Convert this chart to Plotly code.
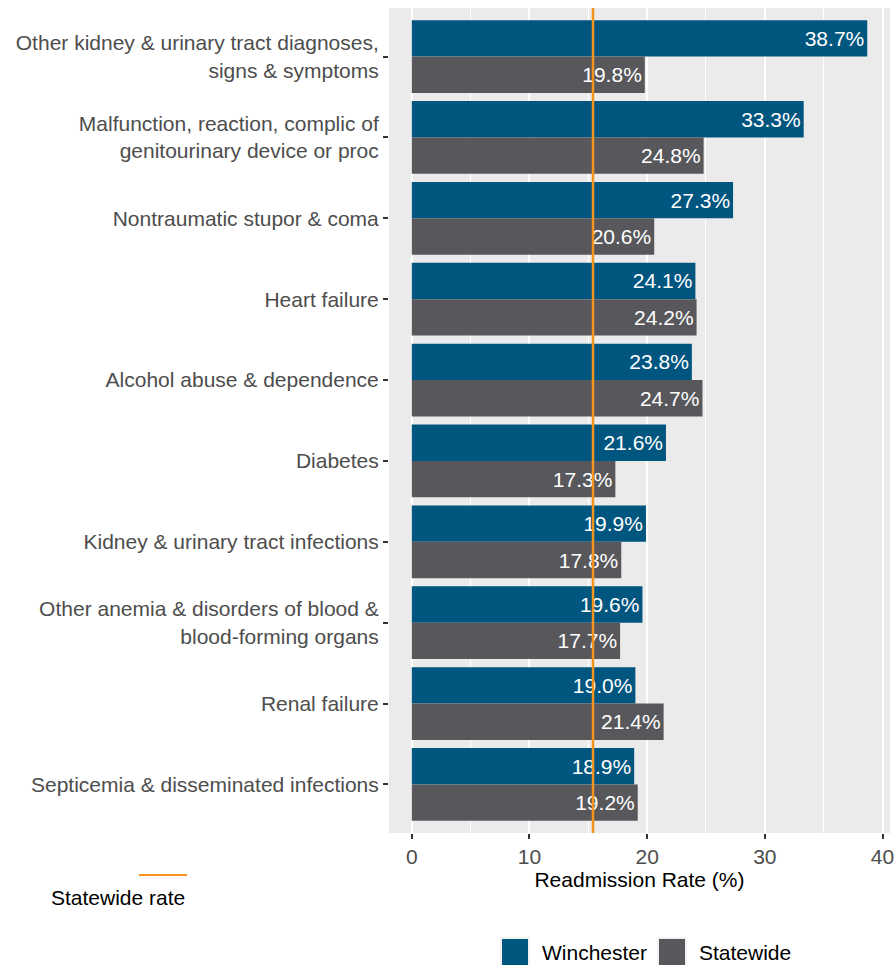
import plotly.graph_objects as go

# Readmission rates by diagnosis (top to bottom as shown)
diagnoses = [
    "Other kidney & urinary tract diagnoses,<br>signs & symptoms",
    "Malfunction, reaction, complic of<br>genitourinary device or proc",
    "Nontraumatic stupor & coma",
    "Heart failure",
    "Alcohol abuse & dependence",
    "Diabetes",
    "Kidney & urinary tract infections",
    "Other anemia & disorders of blood &<br>blood-forming organs",
    "Renal failure",
    "Septicemia & disseminated infections",
]
winchester = [38.7, 33.3, 27.3, 24.1, 23.8, 21.6, 19.9, 19.6, 19.0, 18.9]
statewide = [19.8, 24.8, 20.6, 24.2, 24.7, 17.3, 17.8, 17.7, 21.4, 19.2]
statewide_rate = 15.4

x_ticks = [0, 10, 20, 30, 40]

series = [("Winchester", winchester, "#00567F"), ("Statewide", statewide, "#58585C")]
orange = "#F7941D"
FONT = "Liberation Sans, Arial"

# plot area in pixels (figure is 896 x 965)
W, H = 896, 965
L, R, T, B = 389, 890, 8, 833


def px(x):
    return (x - L) / (R - L)


def py(y):
    return (B - y) / (B - T)


fig = go.Figure()
for name, vals, col in series:
    fig.add_trace(go.Bar(
        y=diagnoses, x=vals, name=name, orientation="h", showlegend=False,
        marker=dict(color=col, line=dict(width=0)),
        text=[f"{v:.1f}%" for v in vals],
        textposition="inside", insidetextanchor="end", textangle=0,
        textfont=dict(color="white", size=21, family=FONT),
    ))

# statewide reference line
fig.add_shape(type="line", x0=statewide_rate, x1=statewide_rate, y0=0, y1=1,
              xref="x", yref="paper", line=dict(color=orange, width=2.5), layer="above")

# "Statewide rate" key at bottom left
fig.add_shape(type="line", x0=px(139), x1=px(187), y0=py(875), y1=py(875),
              xref="paper", yref="paper", line=dict(color=orange, width=2))
fig.add_annotation(text="Statewide rate", x=px(187), y=py(897), xref="paper", yref="paper",
                   xanchor="right", yanchor="middle", showarrow=False,
                   font=dict(size=21, color="black", family=FONT))

# bar legend at bottom
key_x = [500, 657]
for (name, vals, col), kx in zip(series, key_x):
    fig.add_shape(type="rect", x0=px(kx), x1=px(kx + 30), y0=py(937), y1=py(968),
                  xref="paper", yref="paper", fillcolor="#F2F2F2", line=dict(width=0))
    fig.add_shape(type="rect", x0=px(kx + 2), x1=px(kx + 28), y0=py(939), y1=py(966),
                  xref="paper", yref="paper", fillcolor=col, line=dict(width=0))
    fig.add_annotation(text=name, x=px(kx + 40), y=py(952), xref="paper", yref="paper",
                       xanchor="left", yanchor="middle", showarrow=False,
                       font=dict(size=21, color="black", family=FONT))

xmin = -0.05 * max(winchester)
xmax = max(winchester) * 1.05
n = len(diagnoses)
fig.update_layout(
    width=W, height=H,
    margin=dict(l=L, r=W - R, t=T, b=H - B),
    barmode="group", bargap=0.1, bargroupgap=0,
    plot_bgcolor="#EBEBEB", paper_bgcolor="white",
    font=dict(family=FONT, size=21, color="#4D4D4D"),
    uniformtext=dict(minsize=21, mode="show"),
    showlegend=False,
    xaxis=dict(
        range=[xmin, xmax], tickvals=x_ticks, showgrid=True, gridcolor="white", gridwidth=1.5,
        minor=dict(dtick=5, tick0=0, showgrid=True, gridcolor="white", gridwidth=0.7),
        ticks="outside", ticklen=5, tickwidth=1.5, tickcolor="#333333",
        zeroline=False, showline=False, automargin=False,
        title=dict(text="Readmission Rate (%)", font=dict(color="black", size=21), standoff=5),
    ),
    yaxis=dict(
        range=[n - 1 + 0.6, -0.6], showgrid=False, ticks="outside", ticklen=5, tickwidth=1.5,
        tickcolor="#333333", zeroline=False, showline=False, automargin=False,
    ),
)

# drop the default page margin so the figure fills the window
fig.write_html("out.html", config={"displayModeBar": False},
               post_script="document.body.style.margin='0';")
